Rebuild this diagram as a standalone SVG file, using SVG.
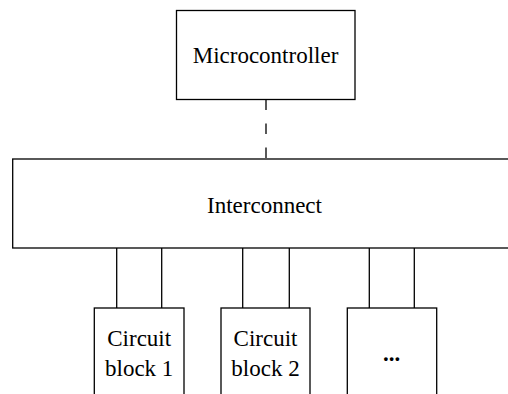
<svg xmlns="http://www.w3.org/2000/svg" width="508" height="394" viewBox="0 0 508 394">
<style>
.box{fill:#fff;stroke:#000;stroke-width:1.3}
.ln{stroke:#000;stroke-width:1.3;fill:none}
.t{font-family:"Liberation Serif","Times New Roman",serif;font-size:23px;fill:#000;text-anchor:middle}
</style>
<rect width="508" height="394" fill="#fff"/>
<g id="connectors">
<line class="ln" x1="266" y1="99.5" x2="266" y2="159" stroke-dasharray="10.5 13.5"/>
<line class="ln" x1="116.7" y1="248" x2="116.7" y2="308"/>
<line class="ln" x1="161.7" y1="248" x2="161.7" y2="308"/>
<line class="ln" x1="242.7" y1="248" x2="242.7" y2="308"/>
<line class="ln" x1="289.3" y1="248" x2="289.3" y2="308"/>
<line class="ln" x1="369.3" y1="248" x2="369.3" y2="308"/>
<line class="ln" x1="414.3" y1="248" x2="414.3" y2="308"/>
</g>
<g id="microcontroller">
<rect class="box" x="176.5" y="10.5" width="178.5" height="89"/>
<text class="t" x="265.5" y="63">Microcontroller</text>
</g>
<g id="interconnect">
<rect class="box" x="12.7" y="159" width="510" height="89"/>
<text class="t" x="264.5" y="212.7">Interconnect</text>
</g>
<g id="block1">
<rect class="box" x="94.3" y="308" width="89.7" height="100"/>
<text class="t" x="139.2" y="346">Circuit</text>
<text class="t" x="139.2" y="376">block 1</text>
</g>
<g id="block2">
<rect class="box" x="221" y="308" width="89" height="100"/>
<text class="t" x="265.5" y="346">Circuit</text>
<text class="t" x="265.5" y="376">block 2</text>
</g>
<g id="block3">
<rect class="box" x="347.3" y="308" width="89.4" height="100"/>
<text class="t" x="391.5" y="361" font-weight="bold">...</text>
</g>
</svg>
